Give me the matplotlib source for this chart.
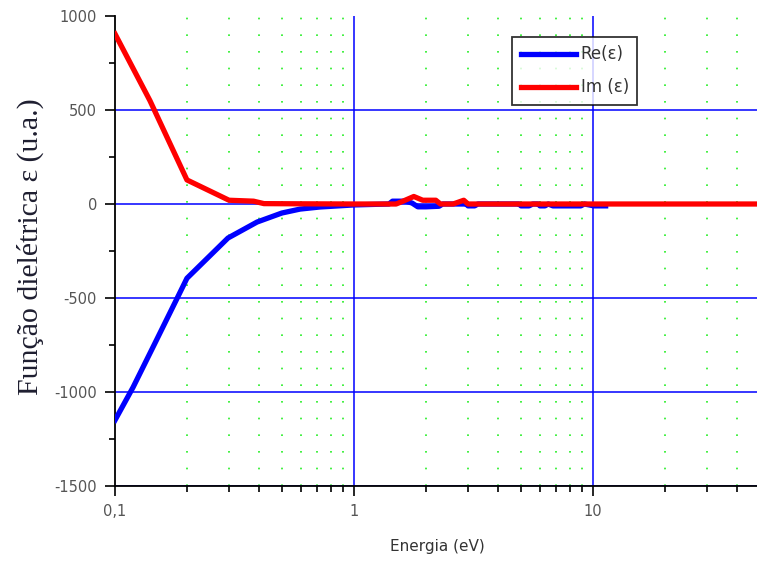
import numpy as np
import matplotlib
matplotlib.use("Agg")
import matplotlib.pyplot as plt
from matplotlib.ticker import FixedLocator, LogLocator, NullFormatter

plt.rcParams["axes.unicode_minus"] = False

# Re(eps) - blue
re_x = [0.1, 0.119, 0.147, 0.183, 0.2, 0.297, 0.393, 0.499, 0.595, 0.72, 1.0,
        1.4, 1.45, 1.65, 1.75, 1.85, 2.0, 2.27, 2.35, 2.95, 3.0, 3.2, 3.3,
        4.9, 5.0, 5.4, 5.6, 5.9, 6.0, 6.3, 6.5, 6.8, 8.9, 9.2, 10.1, 11.3]
re_y = [-1150, -975, -740, -495, -395, -181, -96, -48, -27, -16, -5,
        0, 15, 15, 5, -15, -15, -12, 0, 0, -10, -10, 0,
        0, -10, -10, 0, 0, -10, -10, 0, -10, -10, 0, -10, -10]

# Im(eps) - red
im_x = [0.1, 0.14, 0.2, 0.3, 0.38, 0.42, 0.6, 1.0, 1.5, 1.57, 1.78, 1.94,
        2.2, 2.3, 2.6, 2.88, 3.0, 5.0, 10, 20, 50]
im_y = [905, 550, 128, 20, 15, 2, 1, 0, 0, 10, 40, 20,
        20, 0, 0, 20, 0, 0, 0, 0, 0]

y_ticks = [-1500, -1000, -500, 0, 500, 1000]
x_ticks = [0.1, 1, 10]
x_labels = ["0,1", "1", "10"]

fig = plt.figure(figsize=(7.57, 5.65), dpi=100)
ax = fig.add_axes([115 / 757, 79 / 565, 645 / 757, 470 / 565])

ax.plot(re_x, re_y, color="#0000ff", lw=3.8, label="Re(ε)", zorder=3)
ax.plot(im_x, im_y, color="#ff0000", lw=3.8, label="Im (ε)", zorder=4)

ax.set_xscale("log")
ax.set_xlim(0.1, 50)
ax.set_ylim(-1500, 1000)

ax.xaxis.set_major_locator(FixedLocator(x_ticks))
ax.set_xticklabels(x_labels)
ax.xaxis.set_minor_locator(LogLocator(base=10, subs=np.arange(2, 10)))
ax.xaxis.set_minor_formatter(NullFormatter())
ax.yaxis.set_major_locator(FixedLocator(y_ticks))
ax.yaxis.set_minor_locator(FixedLocator(np.arange(-1500, 1001, 250)))

ax.grid(which="major", color="#0000ff", lw=1.1, ls="-", zorder=1)
ax.grid(which="minor", axis="x", color="#22ee22", lw=1.2, ls=(0, (1, 9)), zorder=1)
ax.yaxis.get_gridlines()[-1].set_visible(False)
ax.xaxis.get_gridlines()[0].set_visible(False)
ax.set_axisbelow(True)

for s in ["top", "right"]:
    ax.spines[s].set_visible(False)
for s in ["left", "bottom"]:
    ax.spines[s].set_linewidth(1.3)

ax.tick_params(which="major", direction="out", length=7, width=1.2,
               labelsize=10.5, labelcolor="#555555", pad=6)
ax.tick_params(which="minor", direction="out", length=4.5, width=1.2)

ax.set_xlabel("Energia (eV)", fontsize=11, color="#333333", labelpad=14)
ax.set_ylabel("Função dielétrica ε (u.a.)", fontsize=21.5, family="Liberation Serif",
              color="#1e1e30")
ax.yaxis.set_label_coords(-0.11, 0.51)

leg = ax.legend(loc="upper left", bbox_to_anchor=(0.616, 0.955), borderaxespad=0,
                fontsize=12, frameon=True, fancybox=False, handlelength=3.3,
                handletextpad=0.3, labelspacing=0.9, borderpad=0.5)
leg.get_frame().set_edgecolor("black")
leg.get_frame().set_linewidth(1.3)
for t in leg.get_texts():
    t.set_color("#333333")

fig.savefig("out.png", dpi=100)
